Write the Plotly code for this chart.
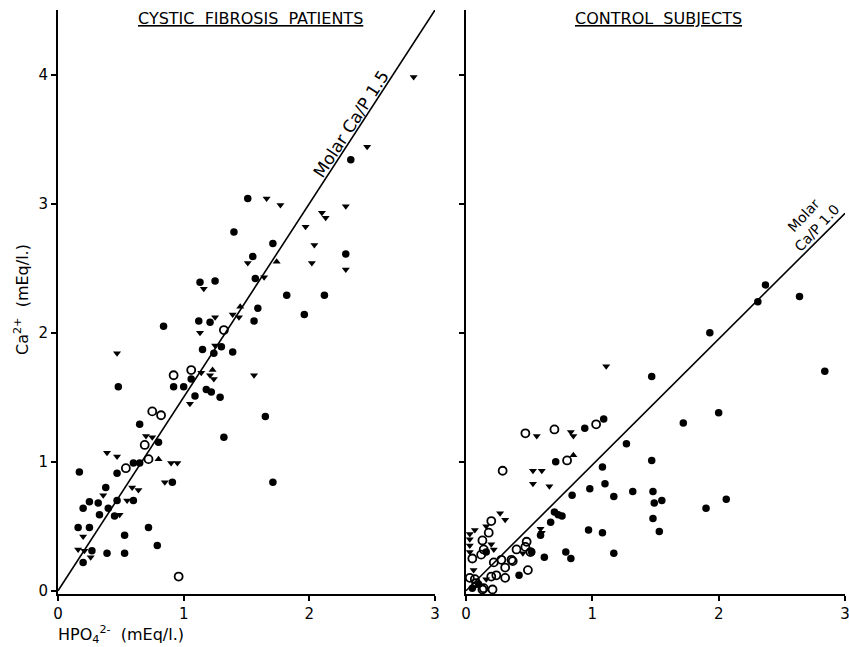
import plotly.graph_objects as go

# ---------------- data: cystic fibrosis patients (left panel) ----------------
cf_filled_x = [2.33, 1.51, 1.40, 1.71, 1.55, 2.29, 1.57, 1.13, 1.25, 1.82, 2.12, 1.96, 1.59, 0.84, 1.12,
               1.21, 1.56, 1.30, 1.15, 1.39, 1.24, 1.06, 0.48, 0.92, 1.00, 1.09, 1.18, 1.22, 1.29, 1.65,
               0.65, 1.32, 0.80, 0.60, 0.65, 0.47, 0.17, 0.91, 1.71, 0.38, 0.25, 0.32, 0.47, 0.60, 0.20,
               0.40, 0.33, 0.45, 0.16, 0.25, 0.53, 0.72, 0.27, 0.39, 0.53, 0.79, 0.20]
cf_filled_y = [3.34, 3.04, 2.78, 2.69, 2.59, 2.61, 2.42, 2.39, 2.40, 2.29, 2.29, 2.14, 2.19, 2.05, 2.09,
               2.08, 2.09, 1.89, 1.87, 1.85, 1.84, 1.64, 1.58, 1.58, 1.58, 1.51, 1.56, 1.54, 1.50, 1.35,
               1.29, 1.19, 1.15, 0.99, 0.99, 0.91, 0.92, 0.84, 0.84, 0.80, 0.69, 0.68, 0.70, 0.70, 0.64,
               0.64, 0.59, 0.58, 0.49, 0.49, 0.43, 0.49, 0.31, 0.29, 0.29, 0.35, 0.22]

cf_open_x = [1.32, 0.92, 1.06, 0.75, 0.82, 0.69, 0.72, 0.54, 0.96]
cf_open_y = [2.02, 1.67, 1.71, 1.39, 1.36, 1.13, 1.02, 0.95, 0.11]

cf_tri_x = [2.83, 2.46, 1.66, 1.77, 2.29, 2.10, 2.13, 2.04, 1.51, 2.02, 2.29, 1.64, 1.16, 1.25, 1.39,
            1.44, 1.13, 1.25, 0.47, 1.56, 1.14, 1.21, 1.24, 1.05, 0.70, 0.75, 0.39, 0.47, 0.90, 0.95,
            0.85, 0.36, 0.59, 0.64, 0.55, 0.49, 0.20, 0.16, 0.21, 0.26, 1.97]
cf_tri_y = [3.98, 3.44, 3.04, 2.99, 2.98, 2.93, 2.89, 2.68, 2.54, 2.54, 2.49, 2.43, 2.34, 2.12, 2.14,
            2.12, 2.00, 1.90, 1.84, 1.67, 1.69, 1.67, 1.64, 1.45, 1.20, 1.19, 1.07, 1.04, 0.99, 0.99,
            0.84, 0.74, 0.80, 0.78, 0.70, 0.59, 0.42, 0.32, 0.31, 0.26, 2.82]

cf_up_x = [1.74, 1.45, 0.80, 1.23]
cf_up_y = [2.55, 2.20, 1.02, 1.71]

# ---------------- data: control subjects (right panel) ----------------
ct_filled_x = [1.93, 1.47, 2.84, 2.00, 1.72, 0.94, 1.09, 1.27, 0.71, 1.47, 1.08, 1.10, 0.98, 0.84, 1.17,
               1.32, 1.48, 1.49, 1.55, 2.06, 1.90, 1.48, 1.53, 0.97, 1.08, 1.17, 0.79, 0.83, 0.62, 0.70,
               0.73, 0.76, 0.67, 0.59, 0.42, 0.16, 0.52, 0.05, 0.10, 2.37, 2.31, 2.64]
ct_filled_y = [2.00, 1.66, 1.70, 1.38, 1.30, 1.26, 1.33, 1.14, 1.00, 1.01, 0.96, 0.83, 0.79, 0.74, 0.73,
               0.77, 0.77, 0.68, 0.70, 0.71, 0.64, 0.56, 0.46, 0.47, 0.45, 0.29, 0.30, 0.25, 0.26, 0.61,
               0.59, 0.58, 0.53, 0.43, 0.12, 0.30, 0.30, 0.02, 0.05, 2.37, 2.24, 2.28]

ct_open_x = [0.47, 0.70, 1.03, 0.80, 0.29, 0.20, 0.18, 0.13, 0.14, 0.12, 0.05, 0.22, 0.28, 0.36, 0.31,
             0.24, 0.31, 0.40, 0.47, 0.48, 0.51, 0.49, 0.37, 0.21, 0.13, 0.08, 0.03, 0.07, 0.14, 0.20]
ct_open_y = [1.22, 1.25, 1.29, 1.01, 0.93, 0.54, 0.45, 0.39, 0.32, 0.28, 0.25, 0.22, 0.24, 0.24, 0.18,
             0.12, 0.10, 0.32, 0.34, 0.38, 0.30, 0.16, 0.23, 0.01, 0.01, 0.06, 0.10, 0.09, 0.02, 0.11]

ct_tri_x = [1.11, 0.56, 0.83, 0.85, 0.53, 0.60, 0.53, 0.66, 0.27, 0.31, 0.16, 0.07, 0.03, 0.03, 0.03,
            0.03, 0.20, 0.22, 0.59, 0.60, 0.45, 0.06, 0.16]
ct_tri_y = [1.74, 1.20, 1.23, 1.20, 0.93, 0.93, 0.83, 0.81, 0.60, 0.55, 0.50, 0.47, 0.44, 0.40, 0.35,
            0.30, 0.36, 0.32, 0.48, 0.45, 0.29, 0.16, 0.09]

ct_up_x = [0.85]
ct_up_y = [1.05]

# reference lines (molar Ca/P ratio; slopes as drawn in the original figure)
ratio_x = [0, 3]
cf_ratio = 1.5
ct_ratio = 0.975

tick_vals = [0, 1, 2, 3]
tick_text = ["0", "1", "2", "3"]
y_tick_vals = [0, 1, 2, 3, 4]
y_tick_text = ["0", "1", "2", "3", "4"]

FONT = "DejaVu Sans"
W, H = 849, 647
L, R, T, B = 58, 4, 10, 53
PW, PH = W - L - R, H - T - B


def px_x(p):
    return (p - L) / PW


def px_y(p):
    return 1 - (p - T) / PH


fig = go.Figure()


def add_panel(xa, ya, fx, fy, ox, oy, tx, ty, ux, uy, ratio):
    fig.add_trace(go.Scatter(x=ratio_x, y=[v * ratio for v in ratio_x], mode="lines",
                             line=dict(color="black", width=1.6), xaxis=xa, yaxis=ya,
                             showlegend=False, hoverinfo="skip"))
    fig.add_trace(go.Scatter(x=fx, y=fy, mode="markers", xaxis=xa, yaxis=ya, cliponaxis=False,
                             marker=dict(symbol="circle", size=7.5, color="black"), showlegend=False))
    fig.add_trace(go.Scatter(x=ox, y=oy, mode="markers", xaxis=xa, yaxis=ya, cliponaxis=False,
                             marker=dict(symbol="circle-open", size=8, color="black",
                                         line=dict(width=1.8, color="black")), showlegend=False))
    fig.add_trace(go.Scatter(x=tx, y=ty, mode="markers", xaxis=xa, yaxis=ya, cliponaxis=False,
                             marker=dict(symbol="triangle-down", size=7, color="black"), showlegend=False))
    fig.add_trace(go.Scatter(x=ux, y=uy, mode="markers", xaxis=xa, yaxis=ya, cliponaxis=False,
                             marker=dict(symbol="triangle-up", size=7, color="black"), showlegend=False))


add_panel("x", "y", cf_filled_x, cf_filled_y, cf_open_x, cf_open_y, cf_tri_x, cf_tri_y,
          cf_up_x, cf_up_y, cf_ratio)
add_panel("x2", "y2", ct_filled_x, ct_filled_y, ct_open_x, ct_open_y, ct_tri_x, ct_tri_y,
          ct_up_x, ct_up_y, ct_ratio)

axis_common = dict(showline=True, linewidth=2, linecolor="black", showgrid=False, zeroline=False,
                   ticks="outside", ticklen=5, tickwidth=1.5, tickcolor="black",
                   ticklabeloverflow="allow",
                   tickfont=dict(family=FONT, size=15, color="black"))

fig.update_layout(
    width=W, height=H,
    margin=dict(l=L, r=R, t=T, b=B, autoexpand=False),
    paper_bgcolor="white", plot_bgcolor="white",
    xaxis=dict(domain=[0, px_x(435)], range=[0, 3], tickvals=tick_vals, ticktext=tick_text,
               anchor="y", **axis_common),
    yaxis=dict(domain=[0, 1], range=[-0.025, 4.5], tickvals=y_tick_vals, ticktext=y_tick_text,
               anchor="x", **axis_common),
    xaxis2=dict(domain=[px_x(466), 1], range=[0, 3], tickvals=tick_vals, ticktext=tick_text,
                anchor="y2", **axis_common),
    yaxis2=dict(domain=[0, 1], range=[-0.025, 4.5], tickvals=[1, 2, 3, 4], showticklabels=False,
                anchor="x2", **axis_common),
)

fig.add_annotation(text="<u>CYSTIC  FIBROSIS  PATIENTS</u>", xref="paper", yref="paper",
                   x=px_x(250), y=px_y(18), xanchor="center", yanchor="middle", showarrow=False,
                   font=dict(family=FONT, size=16, color="black"))
fig.add_annotation(text="<u>CONTROL  SUBJECTS</u>", xref="paper", yref="paper",
                   x=px_x(658), y=px_y(18), xanchor="center", yanchor="middle", showarrow=False,
                   font=dict(family=FONT, size=16, color="black"))
fig.add_annotation(text="Molar Ca/P 1.5", xref="x", yref="y", x=2.33, y=3.62, textangle=-57,
                   xanchor="center", yanchor="middle", showarrow=False,
                   font=dict(family=FONT, size=17, color="black"))
fig.add_annotation(text="Molar<br>Ca/P 1.0", xref="x2", yref="y2", x=2.72, y=2.86, textangle=-47,
                   xanchor="center", yanchor="middle", showarrow=False,
                   font=dict(family=FONT, size=14, color="black"))
fig.add_annotation(text="Ca<sup>2+</sup>  (mEq/l.)", xref="paper", yref="paper",
                   x=px_x(21), y=px_y(300), xanchor="center", yanchor="middle", textangle=-90,
                   showarrow=False, font=dict(family=FONT, size=16, color="black"))
fig.add_annotation(text="HPO<sub>4</sub><sup>2-</sup>  (mEq/l.)", xref="paper", yref="paper",
                   x=px_x(56), y=px_y(634), xanchor="left", yanchor="middle", showarrow=False,
                   font=dict(family=FONT, size=16, color="black"))

fig.write_html("out.html", config={"displayModeBar": False},
               post_script="document.body.style.margin='0px';")
